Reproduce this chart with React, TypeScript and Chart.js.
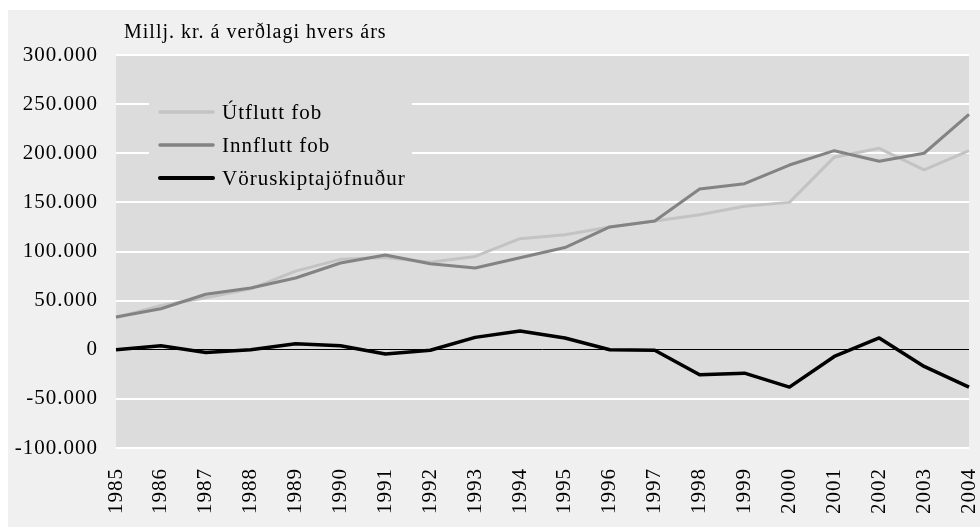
import React, { useEffect, useRef } from "react";
import Chart from "chart.js/auto";

const years = ["1985","1986","1987","1988","1989","1990","1991","1992","1993","1994","1995","1996","1997","1998","1999","2000","2001","2002","2003","2004"];
const utflutt = [32600, 45000, 53000, 62000, 80000, 92000, 94000, 89000, 95000, 113000, 117000, 125000, 131000, 137500, 146000, 150000, 196000, 205000, 183000, 202600];
const innflutt = [33300, 41700, 56500, 62800, 73000, 88300, 96500, 87600, 83200, 93600, 104000, 125000, 131000, 163600, 169000, 188000, 202600, 191800, 200000, 239500];
const voruskipti = [0, 4000, -2700, 0, 6000, 4000, -4400, -500, 12600, 19000, 12000, 0, -500, -25500, -23800, -38000, -6800, 12000, -17000, -38000];
const seriesLabels = ["Útflutt fob", "Innflutt fob", "Vöruskiptajöfnuður"];
const titleText = "Millj. kr. á verðlagi hvers árs";
const yMin = -100000;
const yMax = 300000;
const yStep = 50000;

const FONT = '"Liberation Serif", "Times New Roman", serif';

function fmt(v: number): string {
  const neg = v < 0;
  const s = String(Math.abs(Math.round(v)));
  const parts: string[] = [];
  for (let i = s.length; i > 0; i -= 3) parts.unshift(s.slice(Math.max(0, i - 3), i));
  return (neg ? "-" : "") + parts.join(".");
}

const setSpacing = (chart: any) => {
  try { chart.ctx.letterSpacing = "1px"; } catch (e) {}
};

const customPlugin = {
  id: "custom",
  beforeUpdate(chart: any) { setSpacing(chart); },
  beforeLayout(chart: any) { setSpacing(chart); },
  beforeDraw(chart: any) {
    setSpacing(chart);
    const { ctx, chartArea } = chart;
    ctx.save();
    ctx.fillStyle = "#dcdcdc";
    ctx.fillRect(chartArea.left, chartArea.top, chartArea.right - chartArea.left, chartArea.bottom - chartArea.top);
    ctx.restore();
  },
  afterDraw(chart: any) {
    const { ctx } = chart;
    ctx.save();
    ctx.letterSpacing = "1px";
    ctx.fillStyle = "#000";
    ctx.font = `20px ${FONT}`;
    ctx.textAlign = "left";
    ctx.textBaseline = "alphabetic";
    ctx.fillText(titleText, 116, 28);
    ctx.fillStyle = "#dcdcdc";
    ctx.fillRect(141, 80, 263, 102);
    const rows = [102, 135, 168];
    chart.data.datasets.forEach((ds: any, i: number) => {
      ctx.strokeStyle = ds.borderColor;
      ctx.lineWidth = i === 2 ? 4 : 3.5;
      ctx.lineCap = "round";
      ctx.beginPath();
      ctx.moveTo(152, rows[i]);
      ctx.lineTo(205, rows[i]);
      ctx.stroke();
      ctx.fillStyle = "#000";
      ctx.font = `21px ${FONT}`;
      ctx.textBaseline = "middle";
      ctx.fillText(ds.label, 214, rows[i] + 1);
    });
    ctx.restore();
  },
};

export default function App() {
  const ref = useRef<HTMLCanvasElement | null>(null);
  useEffect(() => {
    if (!ref.current) return;
    Chart.defaults.font.family = FONT;
    const chart = new Chart(ref.current, {
      type: "line",
      data: {
        labels: years,
        datasets: [
          { label: seriesLabels[0], data: utflutt, borderColor: "#c3c3c3", backgroundColor: "#c3c3c3", borderWidth: 3, pointRadius: 0, tension: 0, order: 2, borderJoinStyle: "round" },
          { label: seriesLabels[1], data: innflutt, borderColor: "#838383", backgroundColor: "#838383", borderWidth: 3, pointRadius: 0, tension: 0, order: 1, borderJoinStyle: "round" },
          { label: seriesLabels[2], data: voruskipti, borderColor: "#000000", backgroundColor: "#000000", borderWidth: 3.5, pointRadius: 0, tension: 0, order: 0, borderJoinStyle: "round" },
        ],
      },
      options: {
        responsive: false,
        animation: false,
        devicePixelRatio: 1,
        layout: { padding: { top: 45, right: 11, left: 0, bottom: 0 } },
        plugins: { legend: { display: false }, title: { display: false }, tooltip: { enabled: false } },
        scales: {
          x: {
            type: "category",
            offset: false,
            grid: { display: false, drawTicks: false },
            border: { display: false },
            ticks: { color: "#000", font: { size: 21, family: FONT }, minRotation: 90, maxRotation: 90, padding: 20, autoSkip: false },
            afterFit: (scale: any) => { scale.height = 79; scale.paddingLeft = 0; scale.paddingRight = 0; },
          },
          y: {
            min: yMin,
            max: yMax,
            border: { display: false },
            grid: {
              drawTicks: false,
              color: (c: any) => (c.tick && c.tick.value === 0 ? "#000000" : "#ffffff"),
              lineWidth: (c: any) => (c.tick && c.tick.value === 0 ? 1 : 2),
            },
            ticks: { stepSize: yStep, color: "#000", font: { size: 21, family: FONT }, padding: 18, callback: (v: any) => fmt(Number(v)) },
            afterFit: (scale: any) => { scale.width = 108; scale.paddingTop = 0; scale.paddingBottom = 0; },
          },
        },
      },
      plugins: [customPlugin],
    });
    return () => chart.destroy();
  }, []);
  return (
    <div style={{ position: "fixed", left: 8, top: 10, width: 972, height: 517, background: "#f0f0f0" }}>
      <canvas ref={ref} width={972} height={517} style={{ display: "block", width: 972, height: 517 }} />
    </div>
  );
}
